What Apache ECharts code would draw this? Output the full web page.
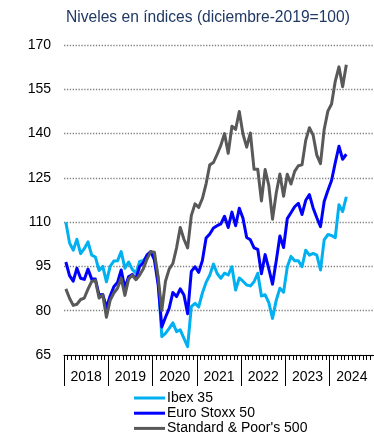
<!DOCTYPE html>
<html>
<head>
<meta charset="utf-8">
<script src="https://cdn.jsdelivr.net/npm/echarts@6/dist/echarts.min.js"></script>
<style>
  html, body { margin: 0; padding: 0; background: #ffffff; }
  #chart { width: 374px; height: 440px; }
</style>
</head>
<body>
<div id="chart"></div>
<script>
// Monthly index levels, December 2019 = 100 (Jan 2018 – May 2024)
const years = ['2018', '2019', '2020', '2021', '2022', '2023', '2024'];

const ibex35 = [
  110, 103, 100.5, 104.2, 99.3, 101, 103.3, 98.8, 98.2, 93.6, 95, 89.8,
  95, 96.8, 96.9, 100, 94.4, 96.5, 94, 92.7, 96.7, 97, 98.5, 100,
  98.1, 91.2, 71.2, 72.3, 74, 75.9, 72.9, 73.5, 70.6, 67.8, 81.4, 82.5,
  81.3, 86, 89.6, 92, 95.8, 92.6, 91, 92.7, 92.1, 94.9, 87, 91.1,
  90, 88.7, 88.4, 89.8, 92.7, 85, 85.4, 82.7, 77.4, 83.5, 87.6, 86.3,
  94.8, 98.4, 96.9, 96.9, 94.9, 100.5, 98.8, 99.4, 98.8, 93.8, 104, 105.8,
  105.5, 104.7, 115.9, 113.6, 118.6
];

const euroStoxx50 = [
  96.5, 91.9, 90, 94.4, 91, 90.6, 94.1, 90.7, 90.7, 85.3, 85.5, 81,
  85, 88.1, 89.6, 93.8, 87.6, 91.5, 92.3, 90.8, 95, 96.3, 98.9, 100,
  97.2, 88.9, 74.5, 77.8, 80.8, 86.2, 84.8, 87.4, 85.3, 79, 93.3, 94.9,
  93, 97, 104.6, 106, 108, 108.8, 109.4, 112, 108.2, 113.4, 108.8, 114.7,
  111.3, 104.8, 104, 101.3, 100.8, 92.5, 99, 94.2, 89, 96.8, 105.3, 101.4,
  111.2, 113.2, 115.2, 116.4, 112.6, 117.4, 119.3, 114.8, 111.5, 108.5, 117, 120.7,
  124.1, 130.1, 135.7, 131.3, 133
];

const sp500 = [
  87.4, 84.2, 81.8, 82.2, 83.8, 84.3, 87.3, 89.9, 90.3, 84.3, 85.4, 77.8,
  83.5, 86, 87.6, 91, 85.2, 90.7, 92, 90.5, 92.1, 94.2, 97.5, 100,
  99.8, 91.4, 80.1, 90, 94.1, 96, 101.3, 108.2, 104.2, 101.3, 112.2, 116.2,
  115, 118, 123, 129.4, 130.2, 133, 136, 140, 133.3, 142.5, 141.4, 147.5,
  139.8, 135.4, 140.2, 127.9, 127.9, 117.2, 127.8, 122.4, 111, 119.8, 126.3, 118.8,
  126.2, 122.9, 127.2, 129.1, 129.4, 137.7, 142, 139.5, 132.7, 129.8, 141.4, 147.6,
  150, 157.7, 162.6, 155.9, 163.3
];

const seriesNames = ['Ibex 35', 'Euro Stoxx 50', "Standard & Poor's 500"];
const seriesColors = ['#00B0F0', '#0000FF', '#595959'];

// Monthly categories spanning the full year range of the axis
const months = [];
years.forEach(y => {
  for (let m = 1; m <= 12; m++) months.push(y + '-' + String(m).padStart(2, '0'));
});

const FONT = 'Liberation Sans, Arial, sans-serif';

const chart = echarts.init(document.getElementById('chart'), null, { renderer: 'canvas' });

chart.setOption({
  animation: false,
  backgroundColor: '#ffffff',
  textStyle: { fontFamily: FONT },
  title: {
    text: 'Niveles en índices (diciembre-2019=100)',
    left: 61,
    top: 5,
    textStyle: { fontFamily: FONT, fontSize: 15.6, fontWeight: 'normal', color: '#1F3864' }
  },
  legend: {
    orient: 'vertical',
    left: 134,
    top: 391,
    padding: 0,
    height: 60,
    itemWidth: 31,
    itemHeight: 3,
    itemGap: 1.2,
    icon: 'rect',
    textStyle: { fontFamily: FONT, fontSize: 14, color: '#000000', padding: [0, 0, 0, -3] },
    data: seriesNames
  },
  grid: { left: 64, right: -5, top: 45, bottom: 85, containLabel: false },
  xAxis: [
    {
      type: 'category',
      data: months,
      boundaryGap: true,
      axisLine: { show: true, lineStyle: { color: '#000000', width: 1 } },
      axisTick: { show: true, interval: 0, length: 5, lineStyle: { color: '#000000', width: 1 } },
      axisLabel: { show: false },
      splitLine: { show: false }
    },
    {
      type: 'category',
      data: years,
      position: 'bottom',
      boundaryGap: true,
      axisLine: { show: false },
      axisTick: { show: true, interval: 0, length: 31, lineStyle: { color: '#000000', width: 1 } },
      axisLabel: { show: true, interval: 0, margin: 15, fontSize: 14, color: '#000000', fontFamily: FONT },
      splitLine: { show: false }
    }
  ],
  yAxis: {
    type: 'value',
    min: 65,
    max: 170,
    interval: 15,
    axisLine: { show: false },
    axisTick: { show: false },
    axisLabel: { margin: 13, fontSize: 14, color: '#000000', fontFamily: FONT },
    splitLine: { show: true, lineStyle: { color: '#808080', width: 1.3, type: [1.3, 1.6] } }
  },
  series: [
    { name: seriesNames[0], data: ibex35, color: seriesColors[0] },
    { name: seriesNames[1], data: euroStoxx50, color: seriesColors[1] },
    { name: seriesNames[2], data: sp500, color: seriesColors[2] }
  ].map(s => ({
    type: 'line',
    name: s.name,
    data: s.data,
    xAxisIndex: 0,
    yAxisIndex: 0,
    showSymbol: false,
    symbol: 'none',
    smooth: false,
    itemStyle: { color: s.color },
    lineStyle: { color: s.color, width: 3, join: 'round' }
  }))
});
</script>
</body>
</html>
